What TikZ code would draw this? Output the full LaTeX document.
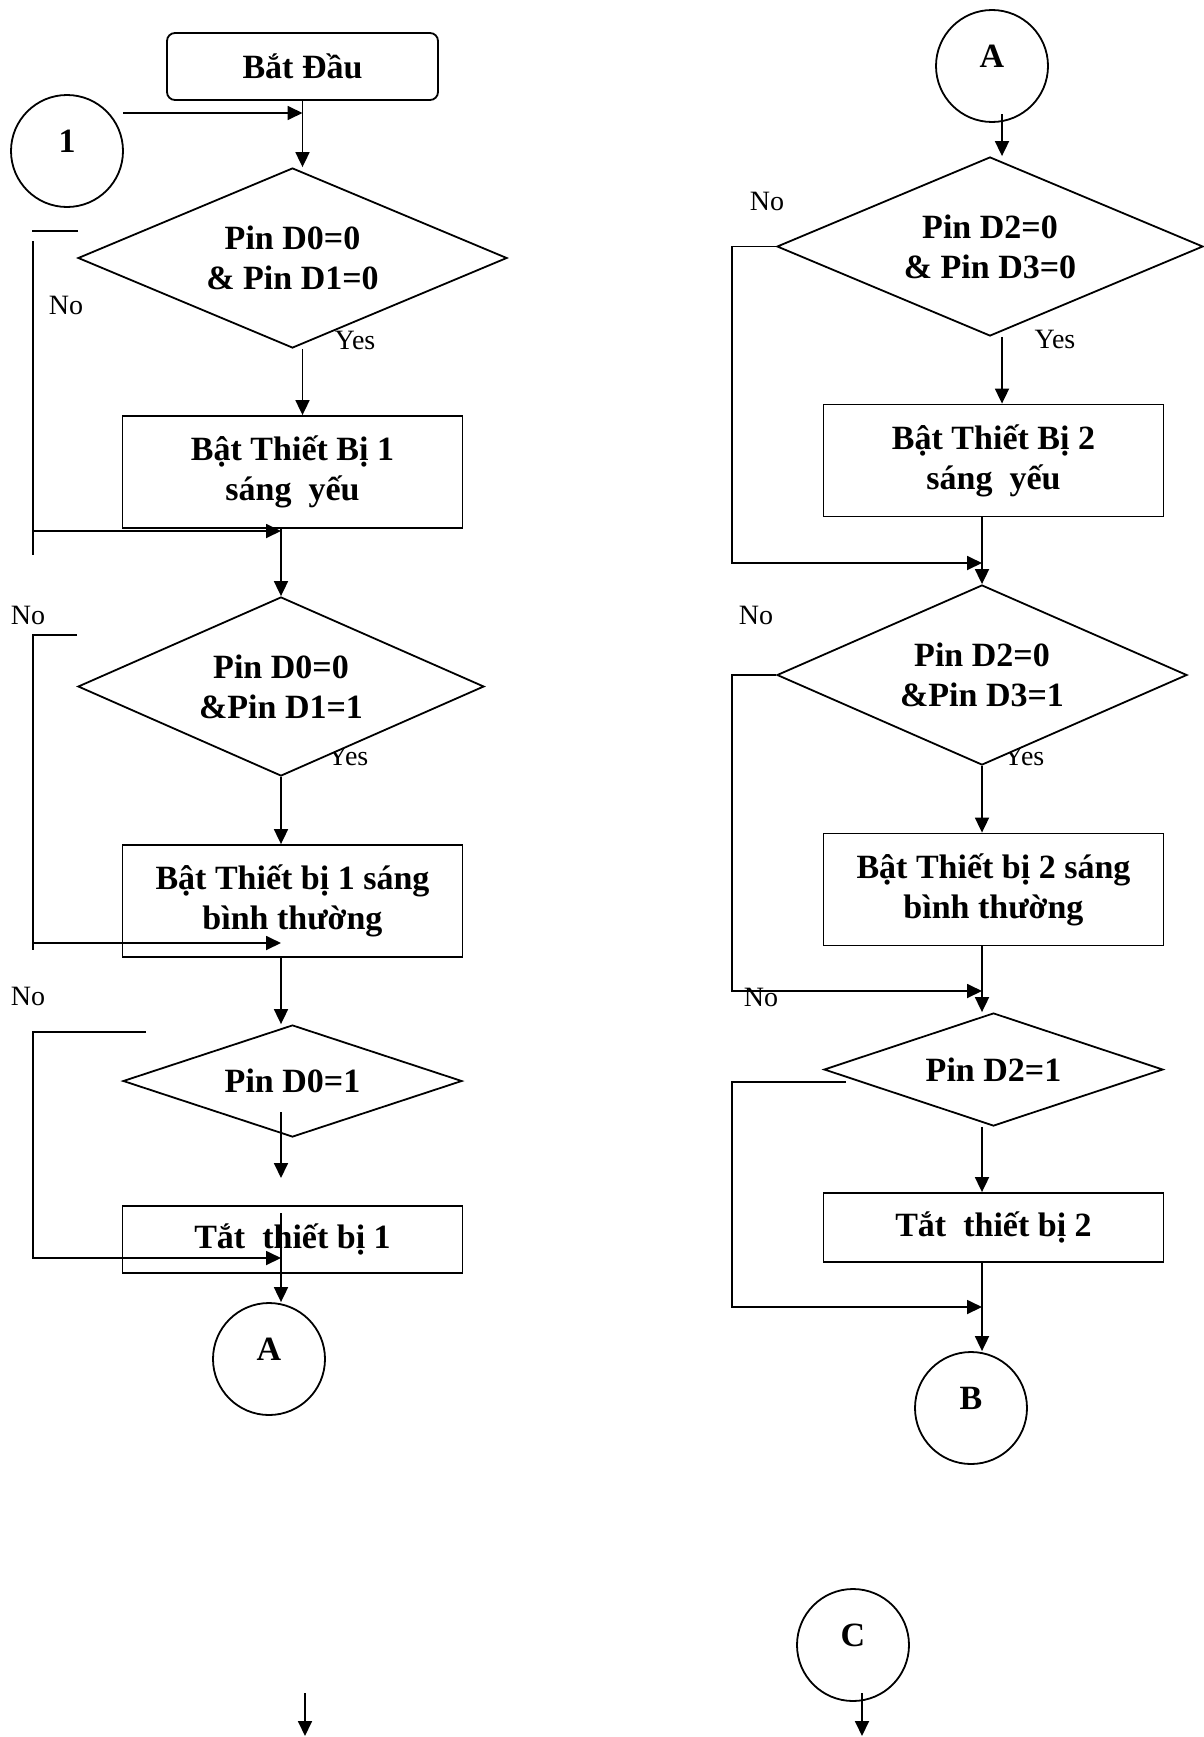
\documentclass[tikz,border=0pt]{standalone}
\usepackage{fontspec}
\setmainfont{Liberation Serif}
\usetikzlibrary{positioning,arrows.meta,shapes.geometric}
\newcommand{\fBold}{\fontsize{34}{40}\selectfont\bfseries}
\newcommand{\fLbl}{\fontsize{28}{32}\selectfont}
\tikzset{
  node-box/.style={draw,line width=1.8pt,fill=white,minimum width=340pt,
    minimum height=112pt,inner sep=0pt,align=center,font=\fBold},
  node-start/.style={node-box,rounded corners=8pt,minimum width=271pt,
    minimum height=67pt},
  node-dec/.style={draw,diamond,aspect=2.4,line width=1.8pt,fill=white,
    inner sep=0pt,align=center,font=\fBold},
  node-conn/.style={draw,circle,line width=1.8pt,fill=white,
    minimum size=112pt,inner sep=0pt,text depth=20pt,font=\fBold},
  node-lbl/.style={inner sep=0pt,font=\fLbl},
  arrow/.style={-{Triangle[length=15pt,width=14pt]},line width=1.8pt},
  link-line/.style={line width=1.8pt},
}
\begin{document}
\begin{tikzpicture}[x=1pt,y=-1pt]
  \useasboundingbox (0,0) rectangle (1204,1737);
  % Yes/No labels first: the diamonds partly cover them
  \node[node-lbl] (no1)  at (66,305)   {No};
  \node[node-lbl] (yes1) at (355,340)  {Yes};
  \node[node-lbl] (no2)  at (28,615)   {No};
  \node[node-lbl] (yes2) at (348,756)  {Yes};
  \node[node-lbl] (no3)  at (28,996)   {No};
  \node[node-lbl] (no4)  at (767,201)  {No};
  \node[node-lbl] (yes4) at (1055,339) {Yes};
  \node[node-lbl] (no5)  at (756,615)  {No};
  \node[node-lbl] (yes5) at (1024,756) {Yes};
  \node[node-lbl] (no6)  at (761,997)  {No};

  % left column
  \node[node-start] (start) at (302.5,66.5) {Bắt Đầu};
  \node[node-conn]  (c1)    at (67,151)     {1};
  \node[node-dec,minimum width=429pt,minimum height=180pt] (d1) at (292.5,258) {Pin D0=0\\\& Pin D1=0};
  \node[node-box] (b1) at (292.5,472) {Bật Thiết Bị 1\\sáng~~yếu};
  \node[node-dec,minimum width=406pt,minimum height=179pt] (d2) at (281,686.5) {Pin D0=0\\\&Pin D1=1};
  \node[node-box] (b2) at (292.5,901) {Bật Thiết bị 1 sáng\\bình thường};
  \node[node-dec,minimum width=339pt,minimum height=112pt] (d3) at (292.5,1081) {Pin D0=1};
  \node[node-box,minimum height=67pt] (b3) at (292.5,1239.5) {Tắt~~thiết bị 1};
  \node[node-conn] (cA) at (269,1359) {A};

  % right column
  \node[node-conn] (cA2) at (992,66) {A};
  \node[node-dec,minimum width=426pt,minimum height=179pt] (d4) at (990,246.5) {Pin D2=0\\\& Pin D3=0};
  \node[node-box] (b4) at (993.5,460.5) {Bật Thiết Bị 2\\sáng~~yếu};
  \node[node-dec,minimum width=410pt,minimum height=180pt] (d5) at (982,675) {Pin D2=0\\\&Pin D3=1};
  \node[node-box] (b5) at (993.5,889.5) {Bật Thiết bị 2 sáng\\bình thường};
  \node[node-dec,minimum width=339pt,minimum height=113pt] (d6) at (993.5,1069.5) {Pin D2=1};
  \node[node-box,minimum height=69pt] (b6) at (993.5,1227.5) {Tắt~~thiết bị 2};
  \node[node-conn] (cB) at (971,1408) {B};
  \node[node-conn] (cC) at (853,1645) {C};

  % free ends of the connectors
  \coordinate (c1out) at (123,113);
  \coordinate (d3a)   at (281,1112);
  \coordinate (d3b)   at (281,1178);
  \coordinate (t3)    at (281,1213);
  \coordinate (l1s)   at (78,231);
  \coordinate (l1t)   at (33,241);
  \coordinate (l1b)   at (33,555);
  \coordinate (l1a)   at (33,531);
  \coordinate (l2t)   at (33,635);
  \coordinate (l2b)   at (33,950);
  \coordinate (l2a)   at (33,943);
  \coordinate (l3s)   at (146,1032);
  \coordinate (l3b)   at (33,1258);
  \coordinate (rs)    at (1002,114);
  \coordinate (r1t)   at (732,246);
  \coordinate (r1b)   at (732,563);
  \coordinate (r2b)   at (732,991);
  \coordinate (r3s)   at (846,1082);
  \coordinate (r3b)   at (732,1307);
  \coordinate (cCo)   at (862,1693);
  \coordinate (dn)    at (305,1693);

  % main flow, left
  \draw[arrow] (c1out) -- (c1out -| start.south);
  \draw[arrow] (start.south) -- (start.south |- d1.north);
  \draw[arrow] (d1.south -| start.south) -- (b1.north -| start.south);
  \draw[arrow] (b1.south -| d2.north) -- (d2.north);
  \draw[arrow] (d2.south) -- (d2.south |- b2.north);
  \draw[arrow] (b2.south -| d2.south) -- (d3.north -| d2.south);
  \draw[arrow] (d3a) -- (d3b);
  \draw[arrow] (t3) -- (t3 |- cA.north);
  % No branches, left
  \draw[link-line] (l1s) -- ++(-46,0);
  \draw[link-line] (l1t) -- (l1b);
  \draw[arrow] (l1a) -- (l1a -| d2.north);
  \draw[link-line] (l2t -| d2.west) -- (l2t) -- (l2b);
  \draw[arrow] (l2a) -- (l2a -| d2.south);
  \draw[arrow] (l3s) -- (l3s -| l3b) -- (l3b) -- (l3b -| d2.south);

  % main flow, right
  \draw[arrow] (rs) -- (rs |- d4.north);
  \draw[arrow] (d4.south -| rs) -- (b4.north -| rs);
  \draw[arrow] (b4.south -| d5.north) -- (d5.north);
  \draw[arrow] (d5.south) -- (d5.south |- b5.north);
  \draw[arrow] (b5.south -| d5.south) -- (d6.north -| d5.south);
  \draw[arrow] (d6.south -| d5.south) -- (b6.north -| d5.south);
  \draw[arrow] (b6.south -| d5.south) -- (cB.north -| d5.south);
  % No branches, right
  \draw[arrow] (d4.west) -- (d4.west -| r1t) -- (r1b) -- (r1b -| d5.north);
  \draw[arrow] (d5.west) -- (d5.west -| r2b) -- (r2b) -- (r2b -| d5.south);
  \draw[arrow] (r3s) -- (r3s -| r3b) -- (r3b) -- (r3b -| d5.south);

  % bottom
  \draw[arrow] (cCo) -- ++(0,43);
  \draw[arrow] (dn) -- ++(0,43);
\end{tikzpicture}
\end{document}
